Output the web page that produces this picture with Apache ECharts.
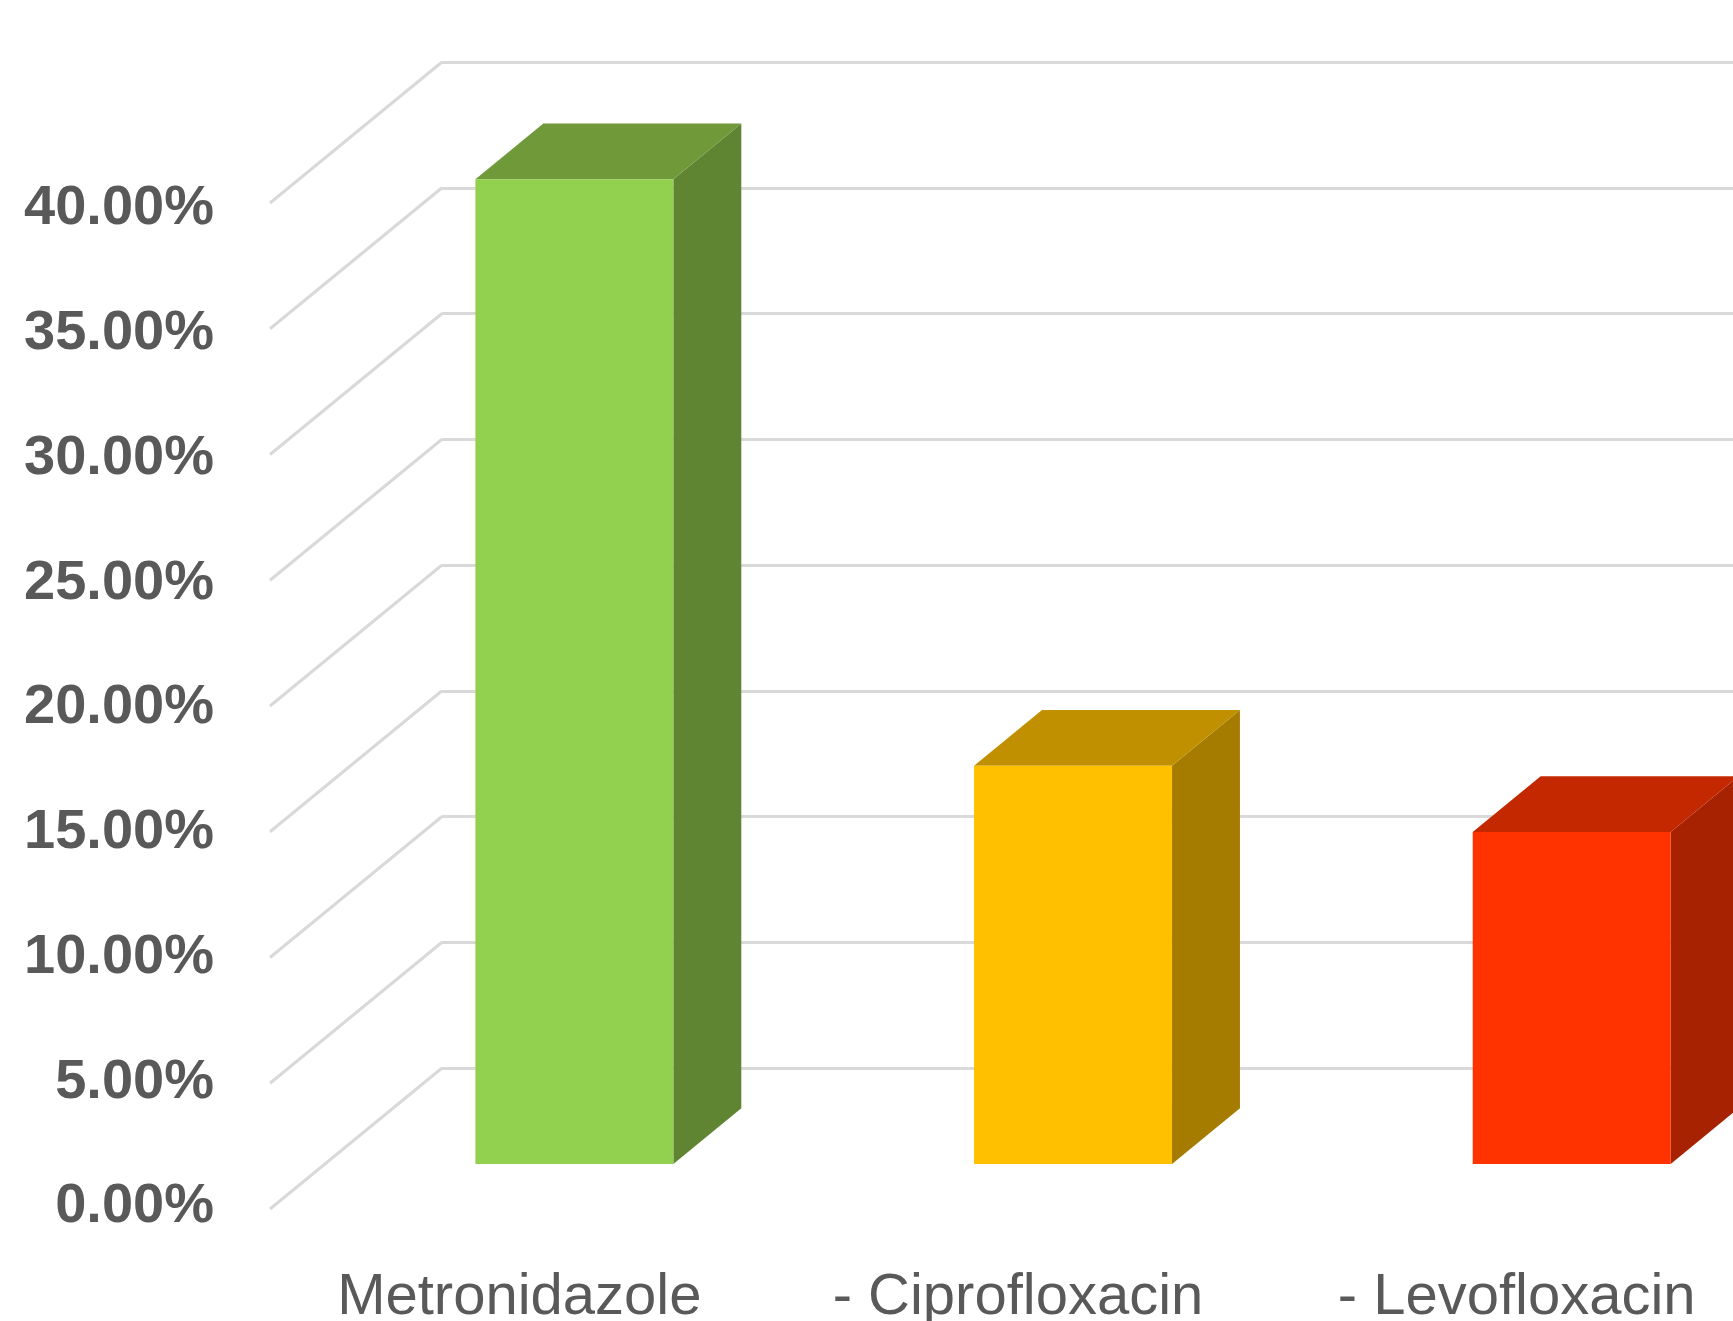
<!DOCTYPE html>
<html>
<head>
<meta charset="utf-8">
<script src="https://cdn.jsdelivr.net/npm/echarts@6/dist/echarts.min.js"></script>
<style>
  html, body { margin: 0; background: #fff; }
  #chart { width: 1733px; height: 1321px; }
</style>
</head>
<body>
<div id="chart"></div>
<script>
const categories = ['Metronidazole', '- Ciprofloxacin', '- Levofloxacin'];
const values = [39.15, 15.83, 13.2];
const yTicks = [0, 5, 10, 15, 20, 25, 30, 35, 40];
const faceColors = ['#92D050', '#FFC000', '#FF3300'];
const topColors = ['#709A3A', '#C09000', '#C42800'];
const sideColors = ['#5F8532', '#A67C00', '#A62200'];

// oblique "3d": floor depth from front edge to back wall, in px
const depth = [172, -141];
const barFront = 0.32, barBack = 0.715; // where the bar faces sit in depth
const barWidth = 0.397;                 // part of the category band
const gridColor = '#D9D9D9';
const labelFont = 'Liberation Sans, Arial, sans-serif';

const chart = echarts.init(document.getElementById('chart'));

// front plane -> bars, category labels and side-wall diagonals
const front = { left: 270, top: 203, width: 1496, height: 1006, outerBoundsMode: 'none' };

function renderBar(params, api) {
  const i = api.value(0);
  const top = api.coord([i, api.value(1)]);
  const base = api.coord([i, 0]);
  const w = api.size([1, 0])[0] * barWidth;
  const fx = depth[0] * barFront, fy = depth[1] * barFront;
  const dx = depth[0] * (barBack - barFront), dy = depth[1] * (barBack - barFront);
  const x0 = top[0] - w / 2 + fx, x1 = x0 + w;
  const yt = top[1] + fy, yb = base[1] + fy;
  return {
    type: 'group',
    children: [
      { type: 'polygon', shape: { points: [[x1, yb], [x1 + dx, yb + dy], [x1 + dx, yt + dy], [x1, yt]] }, style: { fill: sideColors[i] } },
      { type: 'polygon', shape: { points: [[x0, yt], [x1, yt], [x1 + dx, yt + dy], [x0 + dx, yt + dy]] }, style: { fill: topColors[i] } },
      { type: 'polygon', shape: { points: [[x0, yb], [x1, yb], [x1, yt], [x0, yt]] }, style: { fill: faceColors[i] } }
    ]
  };
}

function renderDiagonal(params, api) {
  const y = api.coord([0, api.value(1)])[1];
  const x = params.coordSys.x;
  return {
    type: 'line',
    shape: { x1: x, y1: y, x2: x + depth[0], y2: y + depth[1] },
    style: { stroke: gridColor, lineWidth: 3 }
  };
}

chart.setOption({
  animation: false,
  grid: [
    front,
    // back wall, shifted by the depth
    { left: front.left + depth[0], top: front.top + depth[1], right: 0, height: front.height, outerBoundsMode: 'none' },
    // tick labels sit a little off the front plane, like Excel puts them
    { left: 270, top: 209, width: 100, height: 998, outerBoundsMode: 'none' }
  ],
  xAxis: [
    {
      type: 'category', gridIndex: 0, data: categories,
      axisLine: { show: false }, axisTick: { show: false },
      axisLabel: {
        interval: 0, hideOverlap: false,
        margin: 60, color: '#595959', fontSize: 58, fontFamily: labelFont
      }
    },
    { type: 'value', gridIndex: 1, show: false, min: 0, max: 1 },
    { type: 'value', gridIndex: 2, show: false, min: 0, max: 1 }
  ],
  yAxis: [
    {
      type: 'value', gridIndex: 0, min: 0, max: 40, interval: 5,
      axisLine: { show: false }, axisTick: { show: false }, splitLine: { show: false },
      axisLabel: { show: false }
    },
    {
      type: 'value', gridIndex: 1, min: 0, max: 40, interval: 5,
      axisLine: { show: false }, axisTick: { show: false }, axisLabel: { show: false },
      splitLine: { lineStyle: { color: gridColor, width: 3 } }
    },
    {
      type: 'value', gridIndex: 2, min: 0, max: 40, interval: 5,
      axisLine: { show: false }, axisTick: { show: false }, splitLine: { show: false },
      axisLabel: {
        margin: 56, color: '#595959', fontSize: 56, fontWeight: 'bold', fontFamily: labelFont,
        formatter: v => v.toFixed(2) + '%'
      }
    }
  ],
  series: [
    {
      type: 'custom', xAxisIndex: 0, yAxisIndex: 0, silent: true,
      renderItem: renderDiagonal,
      data: yTicks.map(v => [0, v]), z: 1
    },
    {
      type: 'custom', xAxisIndex: 0, yAxisIndex: 0,
      renderItem: renderBar,
      data: values.map((v, i) => [i, v]), z: 3
    },
    { type: 'line', xAxisIndex: 1, yAxisIndex: 1, data: [] },
    { type: 'line', xAxisIndex: 2, yAxisIndex: 2, data: [] }
  ]
});
</script>
</body>
</html>
